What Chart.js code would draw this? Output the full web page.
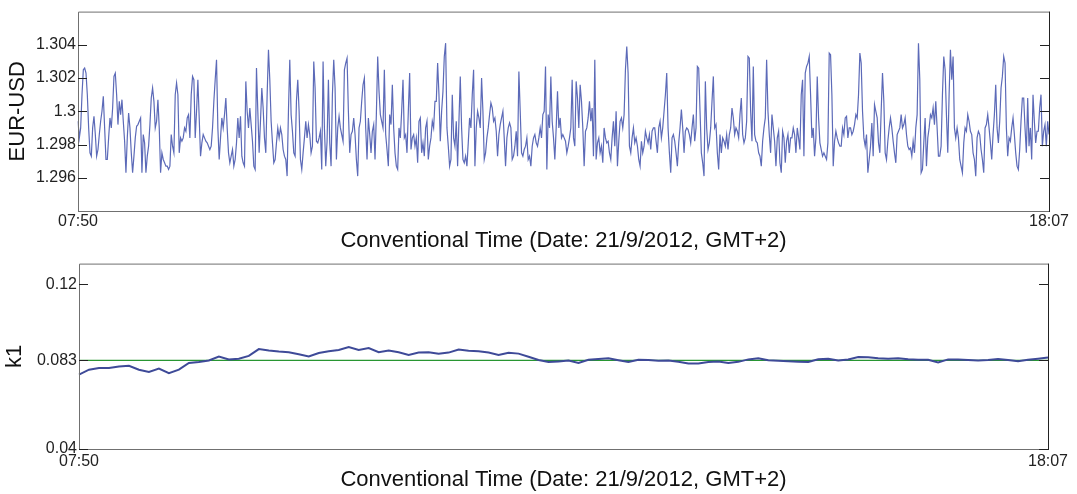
<!DOCTYPE html>
<html>
<head>
<meta charset="utf-8">
<script src="https://cdn.jsdelivr.net/npm/chart.js@4.4.0/dist/chart.umd.min.js"></script>
<style>
  html, body { margin: 0; padding: 0; background: #fff; }
  #wrap { position: relative; width: 1077px; height: 494px; }
  canvas { position: absolute; left: 0; }
  #top { top: 0; }
  #bottom { top: 252px; }
</style>
</head>
<body>
<div id="wrap">
  <canvas id="top" width="1077" height="252"></canvas>
  <canvas id="bottom" width="1077" height="242"></canvas>
</div>
<script>
// EUR-USD in five stretches from left to right
const eurUsd1 = [
  1.2994,1.2984,1.2990,1.3010,1.3025,1.3026,1.3023,1.3010,1.2990,1.2975,
  1.2973,1.2990,1.2997,1.2986,1.2973,1.2977,1.2986,1.2994,1.3000,1.3009,
  1.2990,1.2971,1.2971,1.2984,1.2996,1.2990,1.3002,1.3021,1.3023,1.3010,
  1.2992,1.3006,1.2998,1.3007,1.2994,1.2982,1.2963,1.2984,1.2999,1.2990,
  1.2975,1.2963,1.2973,1.2984,1.2991,1.2992,1.2994,1.2996,1.2963,1.2986,
  1.2981,1.2963,1.2973,1.2979,1.2992,1.3008,1.3014,1.3006,1.2990,1.2994,
  1.3007,1.2990,1.2963,1.2975,1.2971,1.2969,1.2967,1.2967,1.2965,1.2967,
  1.2986,1.2979,1.2975,1.3010,1.3017,1.3010,1.2975,1.2984,1.2982,1.2984,
  1.2990,1.2988,1.2996,1.2998,1.2984,1.3010,1.3021,1.3019,1.2984,1.3000,
  1.3019,1.2996,1.2973,1.2981,1.2986,1.2984,1.2982,1.2981,1.2979,1.2977,
  1.2979,1.2990,1.3006,1.3019,1.3031,1.2990,1.2971,1.2984,1.2996,1.2990,
  1.2998,1.3008,1.2990,1.2975,1.2969,1.2973,1.2977,1.2967,1.2971,1.2981,
  1.2996,1.2984,1.2997,1.2973,1.2969,1.2967,1.3018,1.3000,1.2990,1.3002,
  1.2992,1.2982,1.2967,1.2965,1.3026,1.3000,1.2975,1.2994,1.3014,1.3002,
  1.2984,1.2975,1.3010,1.3037,1.3019,1.2994,1.2981,1.2969,1.2971,1.2981,
  1.2990,1.2984
];
const eurUsd2 = [
  1.2990,1.2986,1.2977,1.2973,1.2971,1.2961,1.3000,1.3031,1.2998,1.2988,
  1.2975,1.2973,1.3006,1.3019,1.3000,1.2971,1.2965,1.2975,1.2984,1.2994,
  1.2984,1.2992,1.2986,1.2975,1.2979,1.3030,1.3014,1.2982,1.2981,1.2984,
  1.2988,1.2965,1.3030,1.2990,1.2967,1.2982,1.3019,1.2981,1.2967,1.3010,
  1.3031,1.3014,1.2971,1.2990,1.2997,1.2990,1.2986,1.2982,1.3025,1.3029,
  1.3032,1.3000,1.2975,1.2986,1.2988,1.2996,1.2986,1.2971,1.2961,1.2990,
  1.2994,1.3006,1.3016,1.3020,1.2990,1.2971,1.2996,1.2986,1.2975,1.2988,
  1.2992,1.2971,1.2998,1.3033,1.3012,1.2998,1.2994,1.2990,1.3025,1.2986,
  1.2977,1.2967,1.2998,1.2992,1.3016,1.2990,1.2975,1.2967,1.2965,1.2990,
  1.2984,1.3000,1.3019,1.2984,1.2986,1.2975,1.3000,1.3023,1.2977,1.2984,
  1.2986,1.2979,1.2984,1.2969,1.2994,1.2996,1.2975,1.2981,1.2973,1.2990,
  1.2994,1.2971,1.2979,1.2984,1.2994,1.2990,1.3006,1.3006,1.3029,1.3010,
  1.2982,1.3000,1.3012,1.3033,1.3041,1.2990,1.2979,1.2967,1.2971,1.3010,
  1.2984,1.2979
];
const eurUsd3 = [
  1.2994,1.2967,1.2994,1.3021,1.2990,1.2971,1.2969,1.2973,1.2967,1.2981,
  1.2996,1.2990,1.3010,1.3025,1.2967,1.2990,1.3000,1.2996,1.2990,1.3020,
  1.3000,1.2971,1.2975,1.2984,1.2990,1.2998,1.3005,1.3002,1.2994,1.2996,
  1.2988,1.2973,1.2986,1.2992,1.2996,1.3000,1.2984,1.2967,1.2984,1.2990,
  1.2993,1.2990,1.2971,1.2973,1.2979,1.2988,1.2973,1.3024,1.3000,1.2975,
  1.2973,1.2977,1.2979,1.2984,1.2971,1.2973,1.2967,1.2979,1.2984,1.2986,
  1.2981,1.2979,1.2984,1.2990,1.2984,1.2998,1.3000,1.3027,1.2965,1.2998,
  1.2990,1.3021,1.2994,1.2984,1.2971,1.2990,1.3012,1.2990,1.2996,1.2984,
  1.2986,1.2984,1.2982,1.2975,1.2979,1.2984,1.2990,1.3019,1.2984,1.2979,
  1.3018,1.3008,1.2990,1.3016,1.3006,1.2990,1.2967,1.2988,1.2990,1.2996,
  1.3006,1.2994,1.3002,1.2973,1.3031,1.2971,1.2981,1.2984,1.2975,1.2979,
  1.2969,1.2990,1.2984,1.2981,1.2982,1.2975,1.2971,1.2984,1.2994,1.2979,
  1.3000,1.2967,1.2982,1.2994,1.2996,1.2990,1.2998,1.3025,1.3039,1.3023,
  1.2979,1.2975,1.2984,1.2990,1.2981,1.2984,1.2979,1.2971,1.2967,1.2982,
  1.2975,1.2979,1.2988,1.2984,1.2981,1.2986,1.2977,1.2988,1.2990
];
const eurUsd4 = [
  1.2990,1.2982,1.2975,1.2990,1.2994,1.2984,1.2990,1.3000,1.3010,1.3023,
  1.2990,1.2975,1.2963,1.2984,1.2986,1.2982,1.2975,1.2967,1.2981,1.2990,
  1.3001,1.2990,1.2975,1.2988,1.2990,1.2989,1.2986,1.2981,1.2990,1.2998,
  1.2982,1.2990,1.3027,1.3026,1.3000,1.2975,1.2969,1.2961,1.3018,1.2990,
  1.2977,1.2981,1.2990,1.3006,1.3021,1.2990,1.2992,1.2975,1.2965,1.2986,
  1.2975,1.2984,1.2982,1.2979,1.2986,1.2977,1.2986,1.2990,1.3002,1.2996,
  1.2986,1.2990,1.2988,1.2984,1.2998,1.3008,1.2986,1.2981,1.2984,1.2994,
  1.3033,1.3032,1.3000,1.2982,1.3027,1.2986,1.2982,1.2981,1.2975,1.2973,
  1.2967,1.2982,1.2990,1.2996,1.3031,1.3000,1.2986,1.2975,1.2998,1.2990,
  1.2982,1.2967,1.2984,1.2988,1.2969,1.2963,1.2988,1.2984,1.2969,1.2982,
  1.2986,1.2975,1.2984,1.2984,1.2990,1.2986,1.2975,1.2990,1.2984,1.2977,
  1.3010,1.3019,1.2973,1.3023,1.3027,1.3029,1.3033,1.3010,1.2984,1.2990,
  1.2973,1.2984,1.3021,1.2996,1.2981,1.2977,1.2973,1.2975,1.2973,1.2971,
  1.2981,1.3035,1.3034,1.3010,1.2967,1.2982,1.2988,1.2984,1.2981,1.2979,
  1.2979,1.2990,1.2986,1.2996,1.2997,1.2984,1.2990,1.2990
];
const eurUsd5 = [
  1.2986,1.2988,1.2992,1.2998,1.2996,1.3010,1.3035,1.3029,1.3000,1.2984,
  1.2979,1.2986,1.2963,1.2971,1.2979,1.2993,1.2973,1.3004,1.3000,1.2996,
  1.2981,1.2975,1.3000,1.3023,1.3006,1.2975,1.2971,1.2982,1.2990,1.2996,
  1.2990,1.2982,1.2975,1.2969,1.2986,1.2988,1.2990,1.2998,1.2990,1.2992,
  1.2996,1.2986,1.2979,1.2977,1.2978,1.2973,1.2982,1.2975,1.2990,1.2998,
  1.3041,1.3019,1.2963,1.2965,1.2981,1.2996,1.2967,1.2984,1.2990,1.2998,
  1.2996,1.3002,1.2992,1.3006,1.2990,1.2973,1.2973,1.2979,1.3010,1.3033,
  1.3025,1.2998,1.2975,1.3010,1.3037,1.3019,1.3033,1.2990,1.2984,1.2990,
  1.2984,1.2971,1.2967,1.2963,1.2981,1.2990,1.2988,1.2998,1.2994,1.2988,
  1.2986,1.2975,1.2971,1.2961,1.2984,1.2988,1.2986,1.2977,1.2971,1.2963,
  1.2990,1.2992,1.2998,1.2990,1.2981,1.2971,1.2986,1.2998,1.3016,1.2990,
  1.2981,1.2994,1.3014,1.3021,1.3033,1.3029,1.2990,1.2973,1.2984,1.2982,
  1.2990,1.2996,1.2986,1.2975,1.2967,1.2965,1.2977,1.2994,1.3008,1.3008,
  1.2990,1.2975,1.3008,1.2979,1.2990,1.2971,1.3010,1.2994,1.2981,1.2988,
  1.2988,1.3002,1.3010,1.2979,1.2988,1.2992,1.2979,1.2994,1.2986
];

// k1 estimate, one reading every ~10 px
const k1Values = [
  0.0761,0.0785,0.0793,0.0793,0.0801,0.0804,0.0785,0.0774,0.0790,0.0768,
  0.0785,0.0818,0.0822,0.0830,0.0849,0.0835,0.0838,0.0852,0.0885,0.0878,
  0.0873,0.0870,0.0860,0.0849,0.0866,0.0874,0.0881,0.0895,0.0881,0.0890,
  0.0870,0.0878,0.0870,0.0857,0.0868,0.0870,0.0862,0.0868,0.0883,0.0877,
  0.0875,0.0868,0.0856,0.0867,0.0863,0.0848,0.0832,0.0822,0.0825,0.0829,
  0.0818,0.0833,0.0837,0.0840,0.0831,0.0822,0.0833,0.0832,0.0829,0.0830,
  0.0823,0.0815,0.0815,0.0822,0.0825,0.0818,0.0823,0.0835,0.0840,0.0831,
  0.0828,0.0826,0.0824,0.0822,0.0836,0.0838,0.0830,0.0835,0.0846,0.0845,
  0.0840,0.0838,0.0841,0.0836,0.0833,0.0833,0.0820,0.0835,0.0834,0.0832,
  0.0830,0.0832,0.0837,0.0832,0.0826,0.0833,0.0838,0.0844
];
const k1Ref = 0.083;

const timeStart = '07:50';
const timeEnd = '18:07';
const xTitle = 'Conventional Time (Date: 21/9/2012, GMT+2)';

const eurTicks = [1.296, 1.298, 1.3, 1.302, 1.304];
const eurTickLabels = ['1.296', '1.298', '1.3', '1.302', '1.304'];
const k1Ticks = [0.04, 0.083, 0.12];
const k1TickLabels = ['0.04', '0.083', '0.12'];

const FONT = '"Liberation Sans", Arial, sans-serif';
Chart.defaults.font.family = FONT;
Chart.defaults.color = '#1a1a1a';

function edgeLabels(n) {
  return Array.from({length: n}, (_, i) => i === 0 ? timeStart : (i === n - 1 ? timeEnd : ''));
}

// box round the plot + short ticks pointing inwards on both sides
const framePlugin = {
  id: 'frame',
  afterDatasetsDraw(chart) {
    const { ctx, chartArea: a, scales: { y } } = chart;
    ctx.save();
    ctx.lineWidth = 1;
    ctx.strokeStyle = '#707070';
    ctx.beginPath();
    ctx.moveTo(a.left + 0.5, a.bottom + 0.5);
    ctx.lineTo(a.left + 0.5, a.top + 0.5);
    ctx.lineTo(a.right + 0.5, a.top + 0.5);
    ctx.moveTo(a.left, a.bottom + 0.5);
    ctx.lineTo(a.right + 1, a.bottom + 0.5);
    ctx.stroke();
    ctx.strokeStyle = '#222';
    ctx.beginPath();
    ctx.moveTo(a.right + 0.5, a.top);
    ctx.lineTo(a.right + 0.5, a.bottom + 1);
    y.ticks.forEach(t => {
      const py = Math.round(y.getPixelForValue(t.value)) + 0.5;
      ctx.moveTo(a.left, py); ctx.lineTo(a.left + 9, py);
      ctx.moveTo(a.right - 9, py); ctx.lineTo(a.right, py);
    });
    ctx.stroke();
    ctx.restore();
  }
};

function axes(opt) {
  return {
    x: {
      type: 'category',
      offset: false,
      grid: { display: false, drawTicks: false },
      border: { display: false },
      ticks: { autoSkip: false, maxRotation: 0, minRotation: 0, padding: opt.xPad, font: { size: 16 }, color: '#222' },
      title: { display: true, text: xTitle, font: { size: 22, lineHeight: 1 }, color: '#111', padding: { top: 0, bottom: opt.titlePad } },
      afterFit: s => { s.height = opt.xHeight; }
    },
    y: {
      min: opt.min, max: opt.max,
      grid: { display: false, drawTicks: false },
      border: { display: false },
      afterBuildTicks: s => { s.ticks = opt.ticks.map(v => ({ value: v })); },
      ticks: { padding: 2, font: { size: 16 }, color: '#222', callback: (v, i) => opt.tickLabels[i] },
      title: { display: true, text: opt.yTitle, font: { size: 22, lineHeight: 1 }, color: '#111', padding: { top: opt.yTitlePad, bottom: 0 } },
      afterFit: s => { s.width = opt.yWidth; }
    }
  };
}

const eurUsd = [...eurUsd1, ...eurUsd2, ...eurUsd3, ...eurUsd4, ...eurUsd5];

new Chart(document.getElementById('top'), {
  type: 'line',
  data: {
    labels: edgeLabels(eurUsd.length),
    datasets: [{ data: eurUsd, borderColor: 'rgb(92,106,184)', borderWidth: 1.2, pointRadius: 0, tension: 0 }]
  },
  options: {
    responsive: false, animation: false, devicePixelRatio: 1,
    layout: { padding: { top: 5, right: 28, left: 0, bottom: 0 } },
    plugins: { legend: { display: false }, tooltip: { enabled: false } },
    scales: axes({ min: 1.294, max: 1.306, ticks: eurTicks, tickLabels: eurTickLabels, yTitle: 'EUR-USD',
      yWidth: 78, yTitlePad: 7, xHeight: 41, xPad: 1, titlePad: 0 })
  },
  plugins: [framePlugin]
});

new Chart(document.getElementById('bottom'), {
  type: 'line',
  data: {
    labels: edgeLabels(k1Values.length),
    datasets: [
      { data: k1Values, borderColor: 'rgb(62,74,152)', borderWidth: 2, pointRadius: 0, tension: 0, order: 0 },
      { data: k1Values.map(() => k1Ref), borderColor: 'rgb(40,150,50)', borderWidth: 1.4, pointRadius: 0, order: 1 }
    ]
  },
  options: {
    responsive: false, animation: false, devicePixelRatio: 1,
    layout: { padding: { top: 9, right: 29, left: 0, bottom: 0 } },
    plugins: { legend: { display: false }, tooltip: { enabled: false } },
    scales: axes({ min: 0.04, max: 0.13, ticks: k1Ticks, tickLabels: k1TickLabels, yTitle: 'k1',
      yWidth: 79, yTitlePad: 4, xHeight: 45, xPad: 3, titlePad: 3 })
  },
  plugins: [framePlugin]
});
</script>
</body>
</html>
